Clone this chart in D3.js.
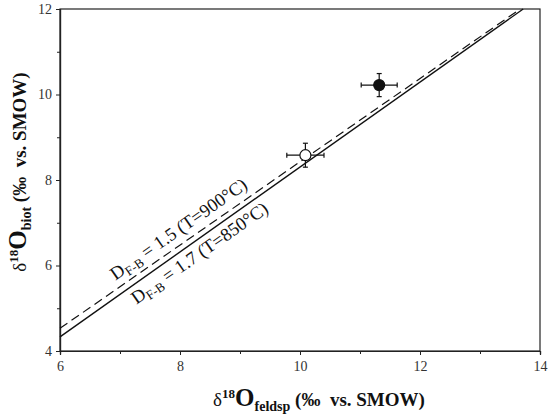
<!DOCTYPE html>
<html>
<head>
<meta charset="utf-8">
<script src="https://cdn.jsdelivr.net/npm/d3@7"></script>
<style>
  body { margin: 0; background: #fff; }
  svg text { font-family: "Liberation Serif", "Times New Roman", serif; white-space: pre; }
</style>
</head>
<body>
<div id="chart"></div>
<script>
// data
var xTicks = [6, 8, 10, 12, 14];
var yTicks = [4, 6, 8, 10, 12];
var xMinor = [7, 9, 11, 13];
var yMinor = [5, 7, 9, 11];

// samples: feldspar vs biotite delta18O, with errors
var sampleX = [10.09, 11.32];
var sampleY = [8.58, 10.22];
var sampleXErr = [0.31, 0.30];
var sampleYErr = [0.28, 0.27];
var sampleFilled = [false, true];

// equilibrium lines (end points)
var line15X = [6, 13.67];
var line15Y = [4.53, 12];
var line17X = [6, 13.72];
var line17Y = [4.33, 12];

var width = 550, height = 416;
var margin = {top: 9, right: 10, bottom: 65, left: 60};

var svg = d3.select('#chart')
  .append('svg')
  .attr('width', width)
  .attr('height', height);

var x = d3.scaleLinear().domain([6, 14]).range([margin.left, width - margin.right]);
var y = d3.scaleLinear().domain([4, 12]).range([height - margin.bottom, margin.top]);

// frame
svg.append('rect')
  .attr('x', x(6)).attr('y', y(12))
  .attr('width', x(14) - x(6)).attr('height', y(4) - y(12))
  .attr('fill', 'none').attr('stroke', '#222').attr('stroke-width', 1.2);

// axes
svg.append('g')
  .attr('transform', 'translate(0,' + y(4) + ')')
  .call(d3.axisBottom(x).tickValues(xTicks).tickSize(4).tickPadding(6).tickFormat(d3.format('d')));
svg.append('g')
  .attr('transform', 'translate(0,' + y(4) + ')')
  .call(d3.axisBottom(x).tickValues(xMinor).tickSize(3).tickFormat(''));

svg.append('g')
  .attr('transform', 'translate(' + x(6) + ',0)')
  .call(d3.axisLeft(y).tickValues(yTicks).tickSize(4).tickPadding(4).tickFormat(d3.format('d')));
svg.append('g')
  .attr('transform', 'translate(' + x(6) + ',0)')
  .call(d3.axisLeft(y).tickValues(yMinor).tickSize(3).tickFormat(''));

svg.selectAll('.domain').attr('stroke', '#222').attr('stroke-width', 1.2);
svg.selectAll('.tick line').attr('stroke', '#222');
svg.selectAll('.tick text')
  .style('font-family', '"Liberation Serif", serif')
  .style('font-size', '14px')
  .attr('fill', '#333');

// equilibrium lines
var line = d3.line().x(function(d) { return x(d[0]); }).y(function(d) { return y(d[1]); });

svg.append('path')
  .datum(d3.zip(line15X, line15Y))
  .attr('d', line)
  .attr('fill', 'none')
  .attr('stroke', '#111')
  .attr('stroke-width', 1.2)
  .attr('stroke-dasharray', '9,5');

svg.append('path')
  .datum(d3.zip(line17X, line17Y))
  .attr('d', line)
  .attr('fill', 'none')
  .attr('stroke', '#111')
  .attr('stroke-width', 1.4);

// line labels
function lineLabel(px, py, value, temp) {
  var t = svg.append('text')
    .attr('transform', 'translate(' + px + ',' + py + ') rotate(-35)')
    .attr('text-anchor', 'middle')
    .attr('font-size', 18.5)
    .attr('fill', '#111');
  t.append('tspan').text('D');
  t.append('tspan').attr('font-size', 13).attr('dy', 4).text('F-B');
  t.append('tspan').attr('dy', -4).text(' = ' + value + ' (T=' + temp + '\u00B0C)');
}
lineLabel(182, 234, '1.5', '900');
lineLabel(203, 258, '1.7', '850');

// error bars + points
var samples = d3.range(sampleX.length).map(function(i) {
  return {x: sampleX[i], y: sampleY[i], ex: sampleXErr[i], ey: sampleYErr[i], filled: sampleFilled[i]};
});
var cap = 2.5;
var g = svg.append('g').selectAll('g').data(samples).enter().append('g')
  .attr('stroke', '#111').attr('stroke-width', 1.2);

g.append('line')
  .attr('x1', function(d) { return x(d.x - d.ex); }).attr('x2', function(d) { return x(d.x + d.ex); })
  .attr('y1', function(d) { return y(d.y); }).attr('y2', function(d) { return y(d.y); });
g.append('line')
  .attr('x1', function(d) { return x(d.x); }).attr('x2', function(d) { return x(d.x); })
  .attr('y1', function(d) { return y(d.y - d.ey); }).attr('y2', function(d) { return y(d.y + d.ey); });
[-1, 1].forEach(function(s) {
  g.append('line')
    .attr('x1', function(d) { return x(d.x + s * d.ex); }).attr('x2', function(d) { return x(d.x + s * d.ex); })
    .attr('y1', function(d) { return y(d.y) - cap; }).attr('y2', function(d) { return y(d.y) + cap; });
  g.append('line')
    .attr('x1', function(d) { return x(d.x) - cap; }).attr('x2', function(d) { return x(d.x) + cap; })
    .attr('y1', function(d) { return y(d.y + s * d.ey); }).attr('y2', function(d) { return y(d.y + s * d.ey); });
});
g.append('circle')
  .attr('cx', function(d) { return x(d.x); })
  .attr('cy', function(d) { return y(d.y); })
  .attr('r', 5.5)
  .attr('fill', function(d) { return d.filled ? '#111' : '#fff'; });

// axis titles
function axisTitle(t, sub) {
  t.append('tspan').attr('font-size', 19).attr('font-weight', 'normal').text('\u03B4');
  t.append('tspan').attr('font-size', 13).attr('dy', -8).text('18');
  t.append('tspan').attr('font-size', 25).attr('dy', 8).text('O');
  t.append('tspan').attr('font-size', 14).attr('dy', 5).text(sub);
  t.append('tspan').attr('font-size', 19).attr('dy', -5).text(' (\u2030  vs. SMOW)');
}

var xt = svg.append('text')
  .attr('x', 319).attr('y', 406)
  .attr('text-anchor', 'middle')
  .attr('font-weight', 'bold')
  .attr('fill', '#111');
axisTitle(xt, 'feldsp');

var yt = svg.append('text')
  .attr('transform', 'translate(26,172) rotate(-90)')
  .attr('text-anchor', 'middle')
  .attr('font-weight', 'bold')
  .attr('fill', '#111');
axisTitle(yt, 'biot');
</script>
</body>
</html>
